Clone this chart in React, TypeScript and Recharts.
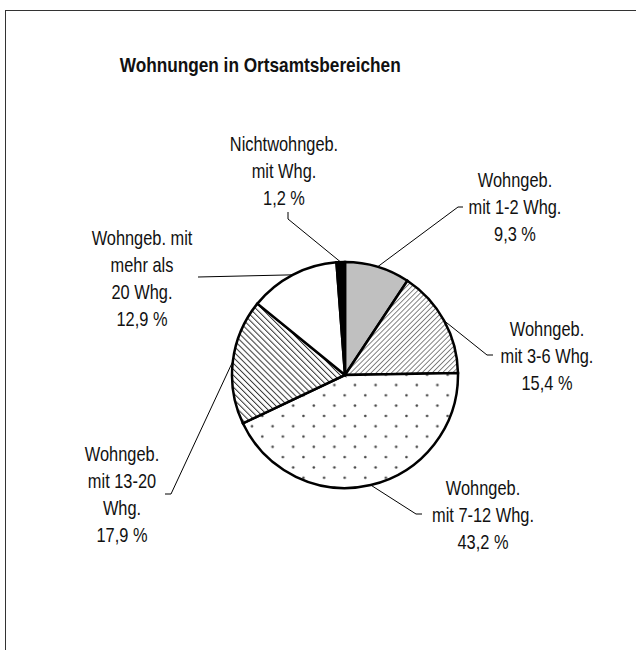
import { PieChart, Pie, Cell } from 'recharts';

const CATEGORIES = [
  ['Wohngeb.', 'mit 1-2 Whg.'],
  ['Wohngeb.', 'mit 3-6 Whg.'],
  ['Wohngeb.', 'mit 7-12 Whg.'],
  ['Wohngeb.', 'mit 13-20', 'Whg.'],
  ['Wohngeb. mit', 'mehr als', '20 Whg.'],
  ['Nichtwohngeb.', 'mit Whg.'],
];
const SHARES = [9.3, 15.4, 43.2, 17.9, 12.9, 1.2];
const FILLS = ['#c0c0c0', 'url(#hatchUp)', 'url(#dots)', 'url(#hatchDown)', '#ffffff', '#000000'];

// label text position (center x, first line y) and leader start/elbow
const LABEL_LAYOUT = [
  { x: 515, y: 179, start: [463, 207], elbow: [458, 207] },
  { x: 547, y: 328, start: [493, 355], elbow: [487, 355] },
  { x: 483, y: 487, start: [422, 514], elbow: [416, 514] },
  { x: 122, y: 453, start: [165, 494], elbow: [171, 494] },
  { x: 142, y: 237, start: [198, 277], elbow: [198, 277] },
  { x: 284, y: 143, start: [288, 212], elbow: [288, 219] },
];

const FONT = '"Liberation Sans", Arial, sans-serif';
const NARROW = 0.82;
const LINE_H = 27;
const RADIAN = Math.PI / 180;

const data = SHARES.map((value, i) => ({
  name: CATEGORIES[i].join(' '),
  lines: [...CATEGORIES[i], `${value.toFixed(1).replace('.', ',')} %`],
  value,
}));

function renderLabel(props: any) {
  const { cx, cy, midAngle, outerRadius, index } = props;
  const layout = LABEL_LAYOUT[index];
  const ax = cx + outerRadius * Math.cos(-midAngle * RADIAN);
  const ay = cy + outerRadius * Math.sin(-midAngle * RADIAN);
  const lines = data[index].lines;
  return (
    <g key={`label-${index}`}>
      <polyline
        points={`${layout.start[0]},${layout.start[1]} ${layout.elbow[0]},${layout.elbow[1]} ${ax},${ay}`}
        fill="none"
        stroke="#000"
        strokeWidth={1}
      />
      <text
        transform={`translate(${layout.x},${layout.y}) scale(${NARROW},1)`}
        textAnchor="middle"
        dominantBaseline="central"
        fontFamily={FONT}
        fontSize={20}
        fill="#111"
      >
        {lines.map((l, i) => (
          <tspan key={i} x={0} dy={i === 0 ? 0 : LINE_H}>
            {l}
          </tspan>
        ))}
      </text>
    </g>
  );
}

export default function App() {
  return (
    <div
      style={{
        position: 'absolute',
        left: 0,
        top: 0,
        width: 636,
        height: 650,
        overflow: 'hidden',
        background: '#fff',
      }}
    >
      <div
        style={{
          position: 'absolute',
          left: 5,
          top: 10,
          width: 660,
          height: 680,
          border: '1.5px solid #333',
        }}
      />
      <div
        style={{
          position: 'absolute',
          left: 0,
          width: 520,
          top: 53,
          textAlign: 'center',
          fontFamily: FONT,
          fontWeight: 'bold',
          fontSize: 21,
          color: '#111',
          transform: `scaleX(${NARROW})`,
          transformOrigin: '261px 0',
        }}
      >
        Wohnungen in Ortsamtsbereichen
      </div>
      <div style={{ position: 'absolute', left: 0, top: 0 }}>
        <PieChart width={636} height={650} margin={{ top: 0, right: 0, bottom: 0, left: 0 }}>
          <defs>
            <pattern id="hatchUp" width="3.6" height="3.6" patternUnits="userSpaceOnUse" patternTransform="rotate(45)">
              <rect width="3.6" height="3.6" fill="#fff" />
              <line x1="0" y1="0" x2="0" y2="3.6" stroke="#666" strokeWidth="1.6" />
            </pattern>
            <pattern id="hatchDown" width="4.2" height="4.2" patternUnits="userSpaceOnUse" patternTransform="rotate(-45)">
              <rect width="4.2" height="4.2" fill="#fff" />
              <line x1="0" y1="0" x2="0" y2="4.2" stroke="#333" strokeWidth="2" />
            </pattern>
            <pattern id="dots" width="20.6" height="20.6" patternUnits="userSpaceOnUse">
              <rect width="20.6" height="20.6" fill="#fff" />
              <circle cx="4.8" cy="14.2" r="1.3" fill="#444" />
              <circle cx="15.1" cy="3.9" r="1.3" fill="#444" />
            </pattern>
          </defs>
          <Pie
            data={data}
            dataKey="value"
            cx={345}
            cy={375}
            outerRadius={113}
            startAngle={90}
            endAngle={-270}
            stroke="#000"
            strokeWidth={2.5}
            label={renderLabel}
            labelLine={false}
            isAnimationActive={false}
          >
            {data.map((_, i) => (
              <Cell key={`cell-${i}`} fill={FILLS[i]} />
            ))}
          </Pie>
        </PieChart>
      </div>
    </div>
  );
}
